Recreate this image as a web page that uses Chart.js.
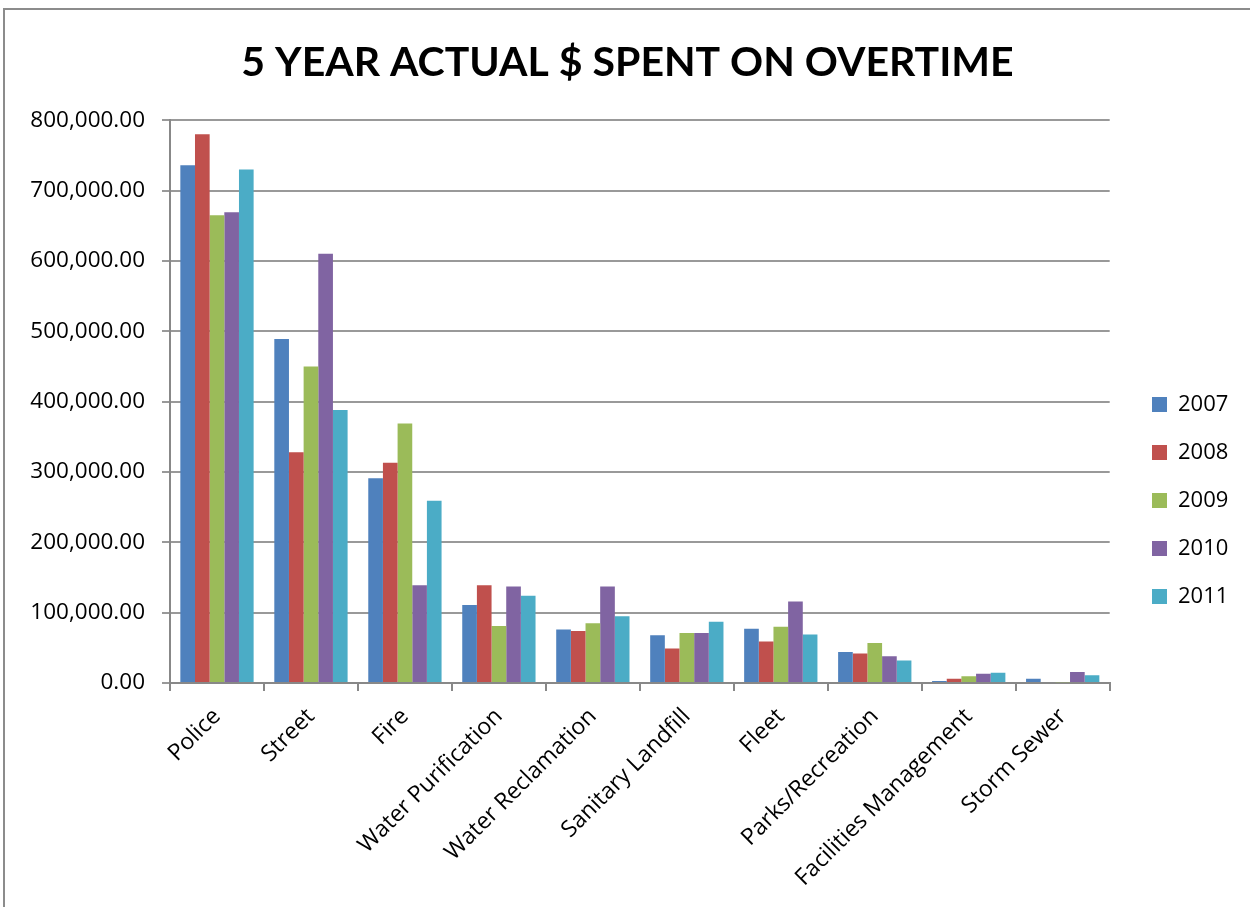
<!DOCTYPE html>
<html><head><meta charset="utf-8">
<script src="https://cdn.jsdelivr.net/npm/chart.js@4"></script>
<style>
html,body{margin:0;padding:0;background:#fff;width:1250px;height:907px;overflow:hidden}
#frame{position:absolute;left:3px;top:8px;width:1260px;height:910px;border-left:2px solid #8c8c8c;border-top:2px solid #8c8c8c}
#wrap{position:absolute;left:0;top:0;width:1245px;height:897px}
</style></head><body>
<div id="frame"><div id="wrap"><canvas id="c" width="1245" height="897"></canvas></div></div>
<script>
const categories = ["Police","Street","Fire","Water Purification","Water Reclamation","Sanitary Landfill","Fleet","Parks/Recreation","Facilities Management","Storm Sewer"];
const years = ["2007","2008","2009","2010","2011"];
const v2007 = [736000,489000,291000,111000,76000,68000,77000,44000,3000,6000];
const v2008 = [780000,328000,313000,139000,74000,49000,59000,42000,6000,1500];
const v2009 = [665000,450000,369000,81000,85000,71000,80000,57000,9500,1000];
const v2010 = [669000,610000,139000,137000,137000,71000,116000,38000,13000,15600];
const v2011 = [730000,388000,259000,124000,95000,87000,69000,32000,14500,11000];
const colors = ["#4F81BD","#C0504D","#9BBB59","#8064A2","#4BACC6"];
const series = [v2007,v2008,v2009,v2010,v2011];
const titleFont = "Lato, 'Open Sans', sans-serif";
const bodyFont = "'Open Sans', Lato, sans-serif";

const placeLegend = {
  id: 'placeLegend',
  afterLayout(chart) {
    const L = chart.legend;
    if (L) {
      const dx = 1147 - (L.left + 26);
      L.left += dx; L.right += dx;
      const dy = 42;
      L.top += dy; L.bottom += dy;
    }
    const T = chart.titleBlock;
    if (T) { T.left = 0; T.right = chart.width; }
  }
};

new Chart(document.getElementById('c'), {
  type: 'bar',
  data: {
    labels: categories,
    datasets: series.map((d,i)=>({label: years[i], data: d, backgroundColor: colors[i], borderWidth: 0, barPercentage: 1, categoryPercentage: 0.78}))
  },
  options: {
    responsive: false,
    animation: false,
    layout: {padding: {left: 0, right: 28, top: 0, bottom: 0}},
    plugins: {
      title: {display: true, text: '5 YEAR ACTUAL $ SPENT ON OVERTIME', color: '#000',
        font: {family: titleFont, size: 41, weight: 'bold'}, padding: {top: 28, bottom: 33}},
      legend: {position: 'right', labels: {color: '#000', font: {family: bodyFont, size: 22}, boxWidth: 15, boxHeight: 15, padding: 26}},
      tooltip: {enabled: false}
    },
    scales: {
      x: {
        grid: {drawOnChartArea: false, drawTicks: true, tickLength: 8, color: '#888', lineWidth: 2},
        border: {display: true, color: '#888', width: 2},
        ticks: {color: '#000', font: {family: bodyFont, size: 23}, maxRotation: 45, minRotation: 45, autoSkip: false, padding: 12},
        afterFit: s => { s.height = 224; }
      },
      y: {
        min: 0, max: 800000,
        grid: {color: '#999', lineWidth: 2, tickLength: 8},
        border: {display: true, color: '#888', width: 2},
        ticks: {stepSize: 100000, color: '#000', font: {family: bodyFont, size: 22.5}, padding: 17,
          callback: v => v.toLocaleString('en-US', {minimumFractionDigits: 2, maximumFractionDigits: 2})},
        afterFit: s => { s.width = 165; }
      }
    }
  },
  plugins: [placeLegend]
});
</script>
</body></html>
